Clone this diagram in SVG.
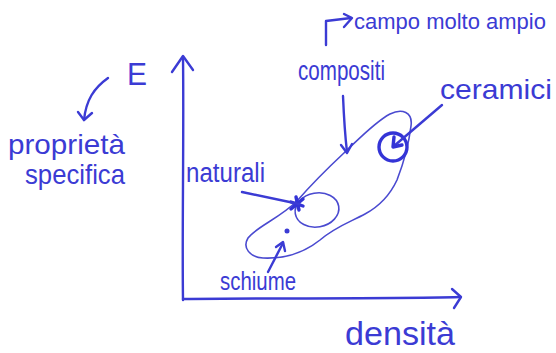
<svg xmlns="http://www.w3.org/2000/svg" width="556" height="353" viewBox="0 0 556 353">
<style>
.ink{fill:none;stroke:#3b3bd4;stroke-width:2.4;stroke-linecap:round;stroke-linejoin:round}
.thin{fill:none;stroke:#4a4ad0;stroke-width:1.6;stroke-linecap:round;stroke-linejoin:round}
.bold{fill:none;stroke:#3434d6;stroke-width:3.4;stroke-linecap:round;stroke-linejoin:round}
text{font-family:"Liberation Sans","DejaVu Sans",sans-serif;fill:#3b3bd4}
</style>
<rect width="556" height="353" fill="#ffffff"/>
<g id="axes">
<path class="ink" d="M183,300 C182,230 184,140 183,57"/>
<path class="ink" d="M172,72 L183,56 L193,70"/>
<path class="ink" d="M183,299 C260,298 380,299 460,297"/>
<path class="ink" d="M452,289 L461,297 L454,308"/>
</g>
<g id="label-E"><text x="127" y="85" font-size="32" textLength="20" lengthAdjust="spacingAndGlyphs">E</text></g>
<g id="label-proprieta"><text x="8" y="154" font-size="28" textLength="117" lengthAdjust="spacingAndGlyphs">proprietà</text>
<text x="25" y="184" font-size="28" textLength="100" lengthAdjust="spacingAndGlyphs">specifica</text></g>
<g id="label-densita"><text x="345" y="345" font-size="34" textLength="110" lengthAdjust="spacingAndGlyphs">densità</text></g>
<g id="label-campo"><text x="354" y="29" font-size="22">campo molto ampio</text></g>
<g id="field">
<path class="thin" d="M297,201 C310,186 330,166 345,152 C360,138 375,122 390,114 C402,108 413,112 411,126 C409,142 404,162 397,180 C390,195 380,206 365,214 C350,222 335,227 320,240 C305,252 285,259 263,258 C250,257 242,248 248,238 C256,227 280,218 297,201 Z"/>
</g>
<g id="naturali">
<ellipse class="thin" cx="317" cy="210" rx="22" ry="17" transform="rotate(-10 317 210)"/>
<path class="bold" d="M291,202 L303,206 M296,197 L299,210 M291,209 L303,199"/>
<text x="186" y="182" font-size="27" textLength="79" lengthAdjust="spacingAndGlyphs">naturali</text>
</g>
<g id="ceramici">
<circle class="bold" cx="393" cy="147" r="14"/>
<text x="440" y="99" font-size="28" textLength="112" lengthAdjust="spacingAndGlyphs">ceramici</text>
</g>
<g id="compositi">
<text x="298" y="80" font-size="28" textLength="87" lengthAdjust="spacingAndGlyphs">compositi</text>
</g>
<g id="schiume">
<circle cx="287" cy="231" r="2.5" fill="#3b3bd4"/>
<text x="220" y="290" font-size="26" textLength="76" lengthAdjust="spacingAndGlyphs">schiume</text>
</g>
<g id="connectors">
<path class="ink" d="M108,78 C94,88 86,100 84,120"/>
<path class="ink" d="M78,112 L84,120 L92,113"/>
<path class="ink" d="M326,45 L326,21 L351,18"/>
<path class="ink" d="M344,14 L352,18 L344,27"/>
<path class="ink" d="M343,96 C344,120 345,135 347,152"/>
<path class="ink" d="M341,145 L347,153 L352,144"/>
<path class="ink" d="M442,105 L394,146"/>
<path class="bold" d="M394,137 L393,147 L402,145"/>
<path class="ink" d="M242,192 L299,204"/>
<path class="ink" d="M268,272 L283,243"/>
<path class="ink" d="M276,247 L283,242 L285,251"/>
</g>
</svg>
